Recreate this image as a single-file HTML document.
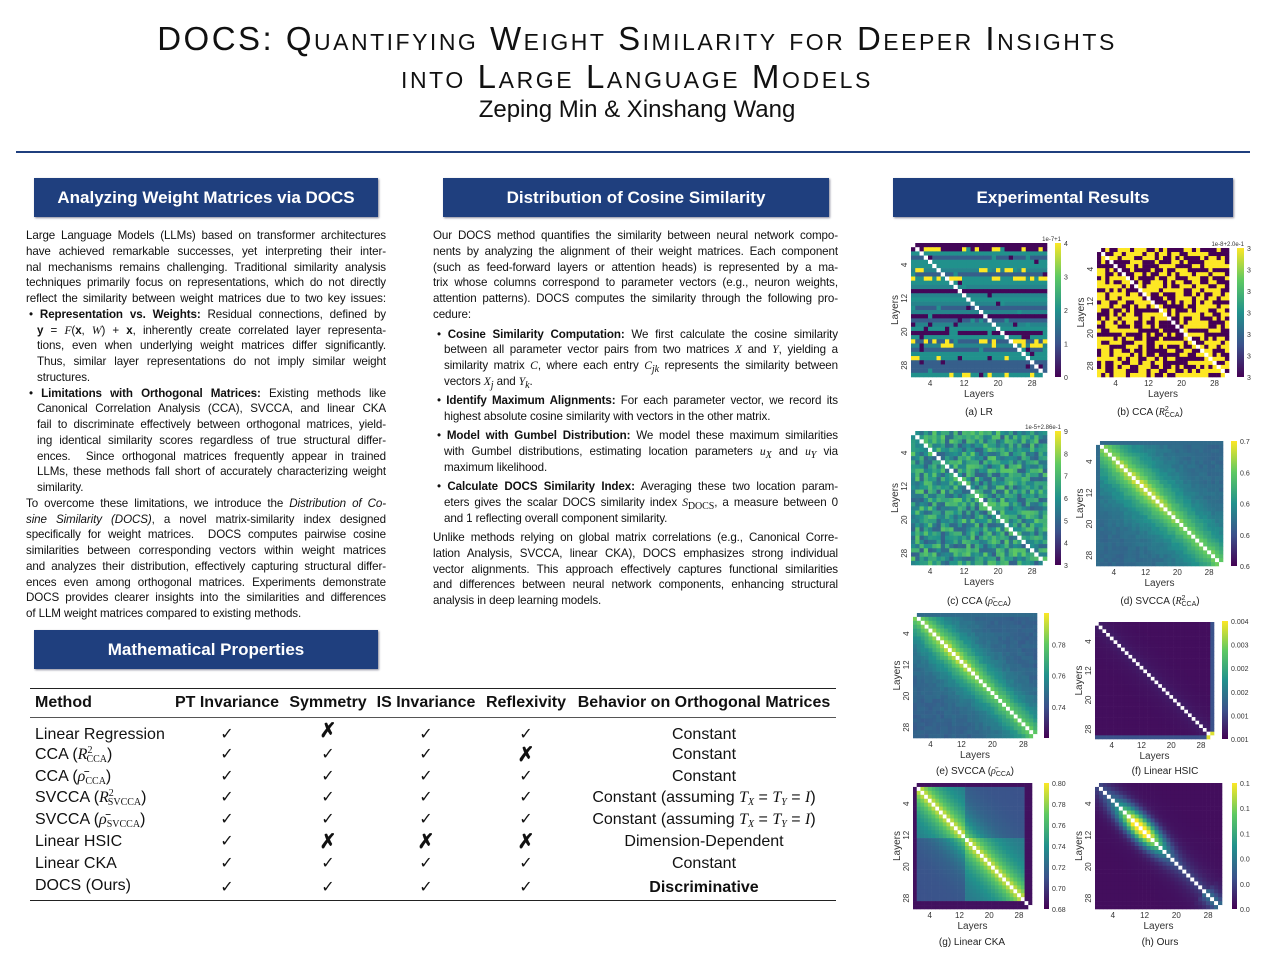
<!DOCTYPE html>
<html><head><meta charset="utf-8">
<style>
*{margin:0;padding:0;box-sizing:border-box}
body{width:1274px;height:974px;background:#fff;position:relative;overflow:hidden;font-family:"Liberation Sans",sans-serif;color:#111}
.t{position:absolute;left:0;width:1274px;text-align:center;font-variant:small-caps;white-space:nowrap}
.hb{position:absolute;background:#1f3f7e;color:#fff;font-weight:bold;font-size:17px;text-align:center;line-height:39px;height:39px;box-shadow:1px 1px 2px #889}
.c{position:absolute;font-size:11.6px;line-height:15.75px;letter-spacing:-0.1px}
.c div{text-align:justify;text-align-last:justify;white-space:nowrap;height:15.75px}
.c div.l{text-align-last:left}
.c .in{padding-left:11px}
i{font-family:"Liberation Serif",serif}
table{position:absolute;left:30px;top:688px;width:806px;border-collapse:collapse;font-size:16px;table-layout:fixed}
td,th{padding:0;height:21.8px;line-height:18px;text-align:center;white-space:nowrap}
th{font-weight:bold;height:29px}
td:first-child,th:first-child{text-align:left;padding-left:5px}
.x{font-size:20px;font-weight:bold}
sub,sup{font-size:10px;font-family:"Liberation Serif",serif;line-height:0;vertical-align:baseline;position:relative}
sub{top:3px}
sup{top:-6px}
</style></head><body>
<div class="t" style="top:20px;font-size:33px;letter-spacing:2.5px">DOCS: Quantifying Weight Similarity for Deeper Insights</div>
<div class="t" style="top:58px;font-size:33px;letter-spacing:2.6px">into Large Language Models</div>
<div class="t" style="top:96px;font-size:24px;font-variant:normal">Zeping Min &amp; Xinshang Wang</div>
<div style="position:absolute;left:16px;top:151px;width:1234px;height:2px;background:#1f3f7e"></div>

<div class="hb" style="left:34px;top:178px;width:344px">Analyzing Weight Matrices via DOCS</div>
<div class="hb" style="left:443px;top:178px;width:386px">Distribution of Cosine Similarity</div>
<div class="hb" style="left:893px;top:178px;width:340px">Experimental Results</div>
<div class="hb" style="left:34px;top:630px;width:344px">Mathematical Properties</div>

<div class="c" style="left:26px;top:228px;width:360px">
<div>Large Language Models (LLMs) based on transformer architectures</div>
<div>have achieved remarkable successes, yet interpreting their inter-</div>
<div>nal mechanisms remains challenging. Traditional similarity analysis</div>
<div>techniques primarily focus on representations, which do not directly</div>
<div>reflect the similarity between weight matrices due to two key issues:</div>
<div style="padding-left:3px">• <b>Representation vs. Weights:</b> Residual connections, defined by</div>
<div class="in"><b>y</b> = <i>F</i>(<b>x</b>, <i>W</i>) + <b>x</b>, inherently create correlated layer representa-</div>
<div class="in">tions, even when underlying weight matrices differ significantly.</div>
<div class="in">Thus, similar layer representations do not imply similar weight</div>
<div class="in l">structures.</div>
<div style="padding-left:3px">• <b>Limitations with Orthogonal Matrices:</b> Existing methods like</div>
<div class="in">Canonical Correlation Analysis (CCA), SVCCA, and linear CKA</div>
<div class="in">fail to discriminate effectively between orthogonal matrices, yield-</div>
<div class="in">ing identical similarity scores regardless of true structural differ-</div>
<div class="in">ences. &nbsp;Since orthogonal matrices frequently appear in trained</div>
<div class="in">LLMs, these methods fall short of accurately characterizing weight</div>
<div class="in l">similarity.</div>
<div>To overcome these limitations, we introduce the <em>Distribution of Co-</em></div>
<div><em>sine Similarity (DOCS)</em>, a novel matrix-similarity index designed</div>
<div>specifically for weight matrices. &nbsp;DOCS computes pairwise cosine</div>
<div>similarities between corresponding vectors within weight matrices</div>
<div>and analyzes their distribution, effectively capturing structural differ-</div>
<div>ences even among orthogonal matrices. Experiments demonstrate</div>
<div>DOCS provides clearer insights into the similarities and differences</div>
<div class="l">of LLM weight matrices compared to existing methods.</div>
</div>

<div class="c" style="left:433px;top:228px;width:405px;line-height:15.6px">
<div>Our DOCS method quantifies the similarity between neural network compo-</div>
<div>nents by analyzing the alignment of their weight matrices. Each component</div>
<div>(such as feed-forward layers or attention heads) is represented by a ma-</div>
<div>trix whose columns correspond to parameter vectors (e.g., neuron weights,</div>
<div>attention patterns). DOCS computes the similarity through the following pro-</div>
<div class="l">cedure:</div>
<div style="height:4px"></div>
<div style="padding-left:4px">• <b>Cosine Similarity Computation:</b> We first calculate the cosine similarity</div>
<div class="in">between all parameter vector pairs from two matrices <i>X</i> and <i>Y</i>, yielding a</div>
<div class="in">similarity matrix <i>C</i>, where each entry <i>C<sub>jk</sub></i> represents the similarity between</div>
<div class="in l">vectors <i>X<sub>j</sub></i> and <i>Y<sub>k</sub></i>.</div>
<div style="height:3.5px"></div>
<div style="padding-left:4px">• <b>Identify Maximum Alignments:</b> For each parameter vector, we record its</div>
<div class="in l">highest absolute cosine similarity with vectors in the other matrix.</div>
<div style="height:3.5px"></div>
<div style="padding-left:4px">• <b>Model with Gumbel Distribution:</b> We model these maximum similarities</div>
<div class="in">with Gumbel distributions, estimating location parameters <i>u<sub>X</sub></i> and <i>u<sub>Y</sub></i> via</div>
<div class="in l">maximum likelihood.</div>
<div style="height:4px"></div>
<div style="padding-left:4px">• <b>Calculate DOCS Similarity Index:</b> Averaging these two location param-</div>
<div class="in">eters gives the scalar DOCS similarity index <i>S</i><sub>DOCS</sub>, a measure between 0</div>
<div class="in l">and 1 reflecting overall component similarity.</div>
<div style="height:3.5px"></div>
<div>Unlike methods relying on global matrix correlations (e.g., Canonical Corre-</div>
<div>lation Analysis, SVCCA, linear CKA), DOCS emphasizes strong individual</div>
<div>vector alignments. This approach effectively captures functional similarities</div>
<div>and differences between neural network components, enhancing structural</div>
<div class="l">analysis in deep learning models.</div>
</div>

<table>
<colgroup><col style="width:140px"><col style="width:114px"><col style="width:88px"><col style="width:108px"><col style="width:92px"><col style="width:264px"></colgroup>
<tr style="border-top:1.5px solid #222;border-bottom:1px solid #555"><th>Method</th><th>PT Invariance</th><th>Symmetry</th><th>IS Invariance</th><th>Reflexivity</th><th>Behavior on Orthogonal Matrices</th></tr>
<tr><td style="padding-top:8px">Linear Regression</td><td style="padding-top:8px">✓</td><td class="x">✗</td><td style="padding-top:8px">✓</td><td style="padding-top:8px">✓</td><td style="padding-top:8px">Constant</td></tr>
<tr><td>CCA (<i>R</i><sup>2</sup><sub style="margin-left:-6px">CCA</sub>)</td><td>✓</td><td>✓</td><td>✓</td><td class="x">✗</td><td>Constant</td></tr>
<tr><td>CCA (<i>ρ̄</i><sub>CCA</sub>)</td><td>✓</td><td>✓</td><td>✓</td><td>✓</td><td>Constant</td></tr>
<tr><td>SVCCA (<i>R</i><sup>2</sup><sub style="margin-left:-6px">SVCCA</sub>)</td><td>✓</td><td>✓</td><td>✓</td><td>✓</td><td>Constant (assuming <i>T<sub>X</sub></i> = <i>T<sub>Y</sub></i> = <i>I</i>)</td></tr>
<tr><td>SVCCA (<i>ρ̄</i><sub>SVCCA</sub>)</td><td>✓</td><td>✓</td><td>✓</td><td>✓</td><td>Constant (assuming <i>T<sub>X</sub></i> = <i>T<sub>Y</sub></i> = <i>I</i>)</td></tr>
<tr><td>Linear HSIC</td><td>✓</td><td class="x">✗</td><td class="x">✗</td><td class="x">✗</td><td>Dimension-Dependent</td></tr>
<tr><td>Linear CKA</td><td>✓</td><td>✓</td><td>✓</td><td>✓</td><td>Constant</td></tr>
<tr style="border-bottom:1.5px solid #222"><td style="padding-bottom:4px;height:26px">DOCS (Ours)</td><td>✓</td><td>✓</td><td>✓</td><td>✓</td><td><b>Discriminative</b></td></tr>
</table>

<svg id="hm" width="1274" height="974" style="position:absolute;left:0;top:0" xmlns="http://www.w3.org/2000/svg">
<defs><linearGradient id="vg" x1="0" y1="1" x2="0" y2="0">
<stop offset="0" stop-color="#440154"/><stop offset=".25" stop-color="#3b528b"/><stop offset=".5" stop-color="#21918c"/><stop offset=".75" stop-color="#5ec962"/><stop offset="1" stop-color="#fde725"/></linearGradient></defs>
<g font-family="Liberation Sans, sans-serif" font-size="10" fill="#222">
<text x="979" y="415" text-anchor="middle">(a) LR</text>
<text x="1150" y="415" text-anchor="middle">(b) CCA (<tspan font-family="Liberation Serif" font-style="italic">R</tspan><tspan font-size="7" dy="-4">2</tspan><tspan font-size="7" dy="6" dx="-4">CCA</tspan><tspan dy="-2">)</tspan></text>
<text x="979" y="604" text-anchor="middle">(c) CCA (<tspan font-family="Liberation Serif" font-style="italic">ρ̄</tspan><tspan font-size="7" dy="2">CCA</tspan><tspan dy="-2">)</tspan></text>
<text x="1160" y="604" text-anchor="middle">(d) SVCCA (<tspan font-family="Liberation Serif" font-style="italic">R</tspan><tspan font-size="7" dy="-4">2</tspan><tspan font-size="7" dy="6" dx="-4">CCA</tspan><tspan dy="-2">)</tspan></text>
<text x="975" y="774" text-anchor="middle">(e) SVCCA (<tspan font-family="Liberation Serif" font-style="italic">ρ̄</tspan><tspan font-size="7" dy="2">CCA</tspan><tspan dy="-2">)</tspan></text>
<text x="1165" y="774" text-anchor="middle">(f) Linear HSIC</text>
<text x="972" y="945" text-anchor="middle">(g) Linear CKA</text>
<text x="1160" y="945" text-anchor="middle">(h) Ours</text>
</g>
</svg>
<script>
(function(){
var S=document.getElementById('hm'),NS='http://www.w3.org/2000/svg';
var st=[[0,[68,1,84]],[.25,[59,82,139]],[.5,[33,145,140]],[.75,[94,201,98]],[1,[253,231,37]]];
function vir(t){t=Math.max(0,Math.min(1,t));for(var k=0;k<4;k++){if(t<=st[k+1][0]){var a=st[k],b=st[k+1],u=(t-a[0])/(b[0]-a[0]);return 'rgb('+[0,1,2].map(function(c){return Math.round(a[1][c]+(b[1][c]-a[1][c])*u)}).join(',')+')';}}return 'rgb(253,231,37)';}
var seed=7;function rnd(){seed=(seed*16807)%2147483647;return seed/2147483647;}
function el(n,a,p){var e=document.createElementNS(NS,n);for(var k in a)e.setAttribute(k,a[k]);(p||S).appendChild(e);return e;}
function txt(x,y,s,a,fs,rot){var e=el('text',{x:x,y:y,'font-family':'Liberation Sans, sans-serif','font-size':fs||8,fill:'#333','text-anchor':a||'middle'});if(rot)e.setAttribute('transform','rotate(-90 '+x+' '+y+')');e.textContent=s;return e;}
function chart(x,y,w,h,f,cb,labs,top){
 var n=32,cw=w/n,ch=h/n;
 for(var i=0;i<n;i++)for(var j=0;j<n;j++){
  el('rect',{x:(x+j*cw).toFixed(2),y:(y+i*ch).toFixed(2),width:(cw+0.3).toFixed(2),height:(ch+0.3).toFixed(2),fill:i==j?'#fff':vir(f(i,j))});}
 [4,12,20,28].forEach(function(k){
  txt(x+(k+0.5)*cw,y+h+9,String(k));
  txt(x-4,y+(k+0.5)*ch+3,String(k),'middle',8,true);});
 txt(x+w/2,y+h+20,'Layers','middle',10);
 txt(x-13,y+h/2,'Layers','middle',10,true);
 el('rect',{x:cb[0],y:cb[1],width:cb[2],height:cb[3],fill:'url(#vg)'});
 for(var q=0;q<labs.length;q++){txt(cb[0]+cb[2]+3,cb[1]+cb[3]-q*cb[3]/(labs.length-1)+3,labs[q],'start',7);}
 if(top)txt(cb[0]+cb[2],y-2,top,'end',6);
}
var rv=[],ry=[];for(var i=0;i<32;i++){var r=rnd();rv.push(r<.3?0.02:r<.45?0.3:r<.8?0.5:0.45);ry.push(rnd()<.25);}
var A=[];for(i=0;i<32;i++){A.push([]);for(var j=0;j<32;j++){var v=rv[i];if(ry[i]&&rnd()<.3)v=1;else if(rnd()<.06)v=rnd()<.5?0.02:0.5;A[i].push(v);}}
chart(911,243,136,134,function(i,j){return A[i][j]},[1055,243,6,134],['0','1','2','3','4'],'1e-7+1');
var B=[];for(i=0;i<32;i++){B.push([]);for(j=0;j<32;j++)B[i].push(rnd()<.5?0:1);}
chart(1097,248,132,129,function(i,j){return B[i][j]},[1237,248,7,129],['3','3','3','3','3','3','3'],'1e-8+2.0e-1');
var C=[];for(i=0;i<32;i++){C.push([]);for(j=0;j<32;j++)C[i].push(0.3+0.45*rnd());}
chart(911,431,136,134,function(i,j){return C[i][j]},[1055,431,6,134],['3','4','5','6','7','8','9'],'1e-5+2.86e-1');
function band(i,j,pk,w){var d=Math.abs(i-j),m=(i+j)/2;return Math.exp(-d/w)*(0.75+0.25*Math.exp(-Math.pow(m-pk,2)/60));}
chart(1096,441,127,125,function(i,j){if(i==0||j==0)return 0.35;return 0.3+0.68*band(i,j,11,6)+0.05*rnd();},[1231,441,6,125],['0.6','0.6','0.6','0.6','0.7']);
chart(913,613,124,125,function(i,j){if(i==0)return 0.35;return 0.28+0.7*band(i,j,10,5)+0.05*rnd();},[1044,613,5,125],['','0.74','0.76','0.78','']);
chart(1095,622,119,117,function(i,j){if((i>=30&&j>=30))return 0.95;if(i==31||j==31)return 0.25;return 0.04+0.06*Math.exp(-Math.abs(i-j)/3);},[1222,621,6,118],['0.001','0.001','0.002','0.002','0.003','0.004']);
chart(913,783,119,126,function(i,j){if(i==0||j==0||i>=30||j>=30)return 0.05;var b=(i<14&&j<14)||(i>=14&&j>=14)?0.38:0.25;return b+0.62*Math.exp(-Math.abs(i-j)/5);},[1044,783,5,126],['0.68','0.70','0.72','0.74','0.76','0.78','0.80']);
chart(1095,783,127,126,function(i,j){var d=Math.abs(i-j),m=(i+j)/2;var v=0.04+0.95*Math.exp(-d*d/14)*Math.exp(-Math.pow(m-11,2)/30)+0.2*Math.exp(-d/3);if(m>27)v+=0.25*Math.exp(-d/2);return v;},[1232,783,5,126],['0.0','0.0','0.0','0.1','0.1','0.1']);
})();
</script>
</body></html>
